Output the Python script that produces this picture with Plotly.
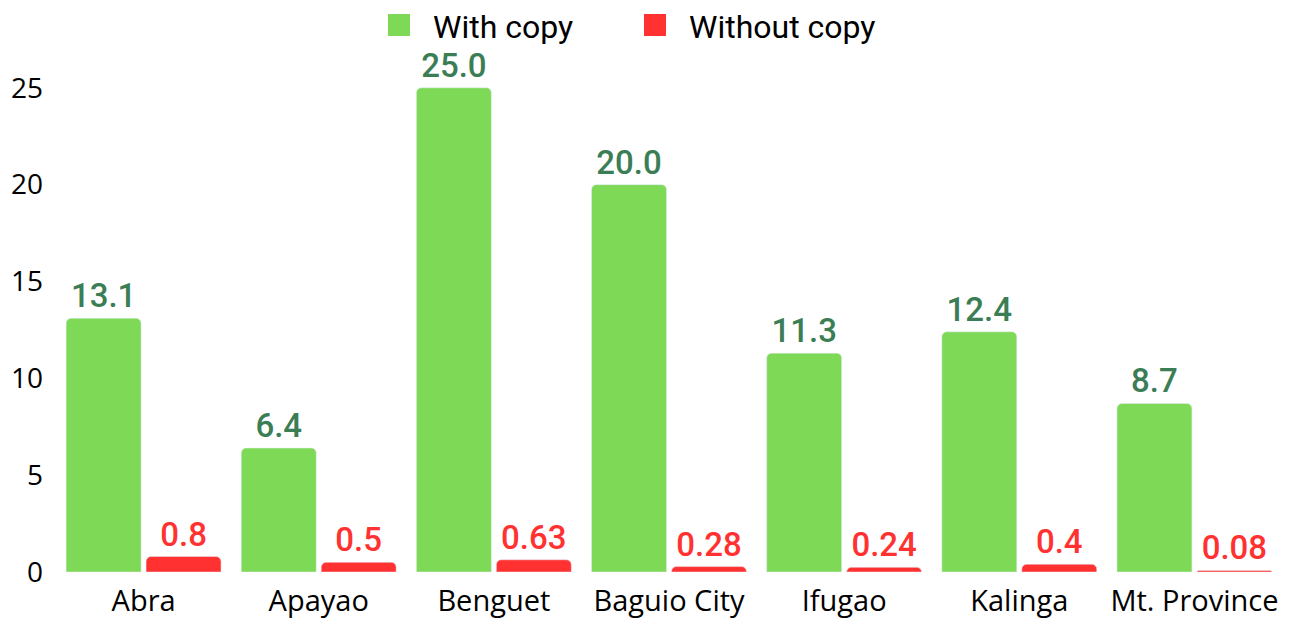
import plotly.graph_objects as go

categories = ["Abra", "Apayao", "Benguet", "Baguio City", "Ifugao", "Kalinga", "Mt. Province"]
with_copy = [13.1, 6.4, 25.0, 20.0, 11.3, 12.4, 8.7]
without_copy = [0.8, 0.5, 0.63, 0.28, 0.24, 0.4, 0.08]
with_copy_labels = ["13.1", "6.4", "25.0", "20.0", "11.3", "12.4", "8.7"]
without_copy_labels = ["0.8", "0.5", "0.63", "0.28", "0.24", "0.4", "0.08"]
series_names = ["With copy", "Without copy"]
y_ticks = [0, 5, 10, 15, 20, 25]

GREEN = "#7ED957"
RED = "#FF3131"
GREEN_TXT = "#3B7D54"

W, H = 1300, 623
ML, MR, MT, MB = 56, 18, 20, 51
PW, PH = W - ML - MR, H - MT - MB
YMAX = 28.5

fig = go.Figure()
fig.add_trace(go.Bar(
    x=categories, y=with_copy, name=series_names[0],
    marker=dict(color=GREEN),
    text=with_copy_labels, textposition="outside",
    textfont=dict(color=GREEN_TXT, size=33, family="Roboto", weight=500),
    cliponaxis=False, showlegend=False,
))
fig.add_trace(go.Bar(
    x=categories, y=without_copy, name=series_names[1],
    marker=dict(color=RED),
    text=without_copy_labels, textposition="outside",
    textfont=dict(color=RED, size=33, family="Roboto", weight=500),
    cliponaxis=False, showlegend=False,
))


def px_x(p):
    return (p - ML) / PW


def px_y(p):
    return (H - MB - p) / PH


# manual legend (large square swatches)
legend_items = [(388, GREEN, series_names[0]), (644, RED, series_names[1])]
shapes = []
annotations = []
for left, color, name in legend_items:
    shapes.append(dict(type="rect", xref="paper", yref="paper",
                       x0=px_x(left), x1=px_x(left + 22),
                       y0=px_y(36), y1=px_y(14),
                       fillcolor=color, line=dict(width=0), layer="above"))
    annotations.append(dict(xref="paper", yref="paper", x=px_x(left + 43), y=px_y(27),
                            xanchor="left", yanchor="middle", showarrow=False,
                            text=name, font=dict(family="Roboto", size=32, color="#000000")))

fig.update_layout(
    width=W, height=H,
    paper_bgcolor="white", plot_bgcolor="white",
    barmode="group", bargap=0.087, bargroupgap=0.0625,
    barcornerradius=5,
    margin=dict(l=ML, r=MR, t=MT, b=MB, autoexpand=False),
    font=dict(family="Open Sans", size=28, color="#000000"),
    showlegend=False,
    shapes=shapes,
    annotations=annotations,
    uniformtext=dict(minsize=10, mode="show"),
)
fig.update_xaxes(showgrid=False, showline=False, ticks="", ticklabelstandoff=9,
                 tickfont=dict(family="Open Sans", size=29, color="#000000"))
fig.update_yaxes(range=[0, YMAX], tickvals=y_ticks, showgrid=False, zeroline=False,
                 showline=False, ticks="", ticklabelstandoff=12,
                 tickfont=dict(family="Open Sans", size=28, color="#000000"))

fig.write_html("out.html", config={"displayModeBar": False},
               post_script="document.body.style.margin='0';")
